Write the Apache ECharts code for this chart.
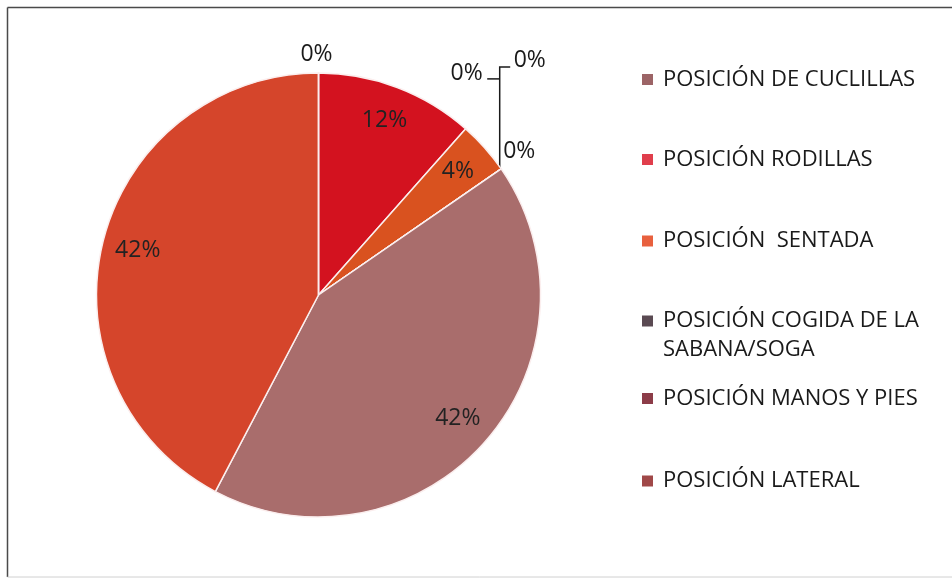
<!DOCTYPE html>
<html>
<head>
<meta charset="utf-8">
<script src="https://cdn.jsdelivr.net/npm/echarts@6/dist/echarts.min.js"></script>
<style>
  html, body { margin: 0; padding: 0; background: #ffffff; }
  #chart { width: 952px; height: 580px; }
</style>
</head>
<body>
<div id="chart"></div>
<script>
// Slices in drawing order, clockwise from twelve o'clock
const categories = [
  'POSICIÓN RODILLAS',
  'POSICIÓN  SENTADA',
  'POSICIÓN COGIDA DE LA SABANA/SOGA',
  'POSICIÓN MANOS Y PIES',
  'POSICIÓN LATERAL',
  'POSICIÓN DE CUCLILLAS',
  'OTRAS POSICIONES',
  'NO REFIERE'
];
// Number of cases per position
const counts = [3, 1, 0, 0, 0, 11, 11, 0];
const sliceColors = ['#d3121f', '#d9521f', '#5e4450', '#8e3e4c', '#a24a4a', '#a96d6c', '#d5452b', '#c0504d'];

// Legend entries, top to bottom
const legendOrder = [
  'POSICIÓN DE CUCLILLAS',
  'POSICIÓN RODILLAS',
  'POSICIÓN  SENTADA',
  'POSICIÓN COGIDA DE LA SABANA/SOGA',
  'POSICIÓN MANOS Y PIES',
  'POSICIÓN LATERAL'
];
const legendSwatches = ['#9c6466', '#e03e4c', '#e8603e', '#5a4a52', '#8c3c48', '#a04848'];

// ---- layout settings ----
const FONT = "'Open Sans', 'Noto Sans', sans-serif";
const FS = 22;
const LABEL_FS = 23;
const CENTER = [318.5, 295];
const RADIUS = 222;
const legendRowY = [79.5, 159.5, 241, 321, 398.5, 481];
const LINE_H = 29;

// Placement of the outside labels of empty slices, relative to their anchor on the rim
const zeroLabelPlacement = {
  'POSICIÓN COGIDA DE LA SABANA/SOGA': { dx: 2, dy: -17, align: 'left', line: null },
  'POSICIÓN MANOS Y PIES': { dx: -18.5, dy: -95, align: 'right', line: [[-1.5, -90], [-14, -90]] },
  'POSICIÓN LATERAL': { dx: 12.5, dy: -108.5, align: 'left', line: [[-1.5, 0], [-1.5, -102], [9, -102]] },
  'NO REFIERE': { dx: -2, dy: -19, align: 'center', line: null }
};

const pieData = categories.map(function (name, i) {
  const empty = counts[i] === 0;
  return {
    name: name,
    value: counts[i],
    itemStyle: { color: sliceColors[i] },
    label: { show: empty },
    labelLine: { show: empty }
  };
});

const labelRingData = categories.map(function (name, i) {
  return { name: name, value: counts[i] };
});

const legends = legendOrder.map(function (name, k) {
  const twoLines = name.indexOf('SABANA') >= 0;
  return {
    data: [{
      name: name,
      itemStyle: { color: legendSwatches[k], borderWidth: 0 }
    }],
    selectedMode: false,
    left: 642,
    // the two-line entry carries an empty first line so the swatch sits on its first text line
    top: twoLines ? legendRowY[k] - LINE_H * 1.5 : legendRowY[k] - LINE_H / 2,
    padding: 0,
    icon: 'rect',
    itemWidth: 11,
    itemHeight: 11,
    itemStyle: { borderWidth: 0 },
    formatter: function (n) {
      return n === 'POSICIÓN COGIDA DE LA SABANA/SOGA' ? '\nPOSICIÓN COGIDA DE LA\nSABANA/SOGA' : n;
    },
    textStyle: {
      fontFamily: FONT,
      fontSize: FS,
      lineHeight: LINE_H,
      color: '#1a1a1a',
      padding: [0, 0, 0, 5]
    }
  };
});

const chart = echarts.init(document.getElementById('chart'), null, { renderer: 'canvas' });

chart.setOption({
  animation: false,
  backgroundColor: '#ffffff',
  legend: legends,
  graphic: [
    { type: 'line', shape: { x1: 7.5, y1: 7.5, x2: 952, y2: 7.5 }, style: { stroke: '#4a4a4a', lineWidth: 1.5 }, silent: true },
    { type: 'line', shape: { x1: 7.5, y1: 7.5, x2: 7.5, y2: 577 }, style: { stroke: '#4a4a4a', lineWidth: 1.5 }, silent: true },
    { type: 'line', shape: { x1: 7.5, y1: 577, x2: 952, y2: 577 }, style: { stroke: '#d0d0d0', lineWidth: 1 }, silent: true }
  ],
  series: [
    {
      // slices, plus the labels of empty categories outside the rim
      type: 'pie',
      name: 'posiciones',
      center: CENTER,
      radius: RADIUS,
      startAngle: 90,
      clockwise: true,
      avoidLabelOverlap: false,
      percentPrecision: 0,
      silent: true,
      emphasis: { disabled: true },
      itemStyle: { borderColor: '#fbeeee', borderWidth: 1.5 },
      label: {
        position: 'outside',
        formatter: '{d}%',
        fontFamily: FONT,
        fontSize: LABEL_FS,
        color: '#1a1a1a'
      },
      labelLine: { length: 10, length2: 10, lineStyle: { color: '#1a1a1a', width: 1.5 } },
      labelLayout: function (p) {
        const spot = zeroLabelPlacement[categories[p.dataIndex]];
        if (!spot || !p.labelLinePoints) return {};
        const a = p.labelLinePoints[0];
        const pts = spot.line
          ? spot.line.map(function (q) { return [a[0] + q[0], a[1] + q[1]]; })
          : [[a[0], a[1]], [a[0], a[1]]];
        return {
          x: a[0] + spot.dx,
          y: a[1] + spot.dy,
          align: spot.align,
          verticalAlign: 'middle',
          labelLinePoints: pts
        };
      },
      data: pieData
    },
    {
      // transparent ring that carries the percentage labels inside the slices
      type: 'pie',
      name: 'porcentajes',
      center: CENTER,
      radius: [RADIUS * 0.65, RADIUS],
      startAngle: 90,
      clockwise: true,
      avoidLabelOverlap: false,
      percentPrecision: 0,
      silent: true,
      emphasis: { disabled: true },
      itemStyle: { color: 'rgba(0,0,0,0)', borderWidth: 0 },
      label: {
        show: true,
        position: 'inside',
        formatter: function (p) { return p.value > 0 ? p.percent + '%' : ''; },
        fontFamily: FONT,
        fontSize: LABEL_FS,
        color: '#222222'
      },
      labelLine: { show: false },
      data: labelRingData
    }
  ]
});
</script>
</body>
</html>
